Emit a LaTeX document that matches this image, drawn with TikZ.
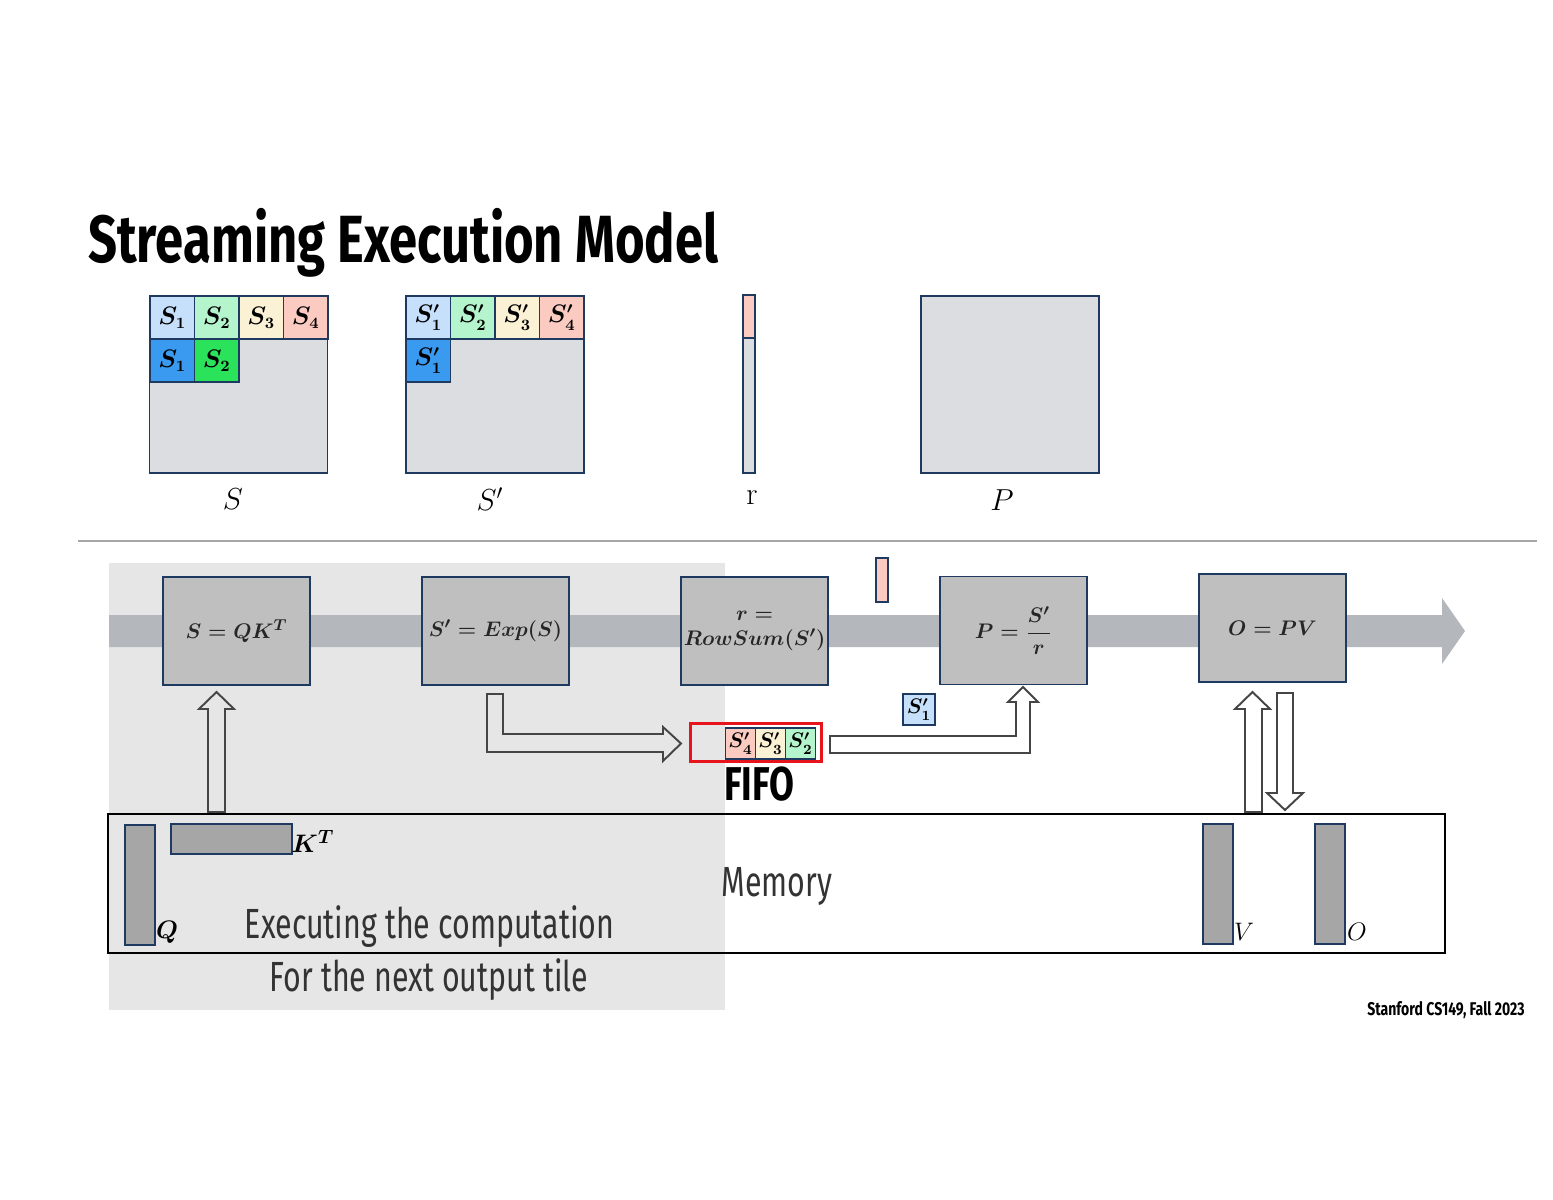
\documentclass[tikz,border=0pt]{standalone}
\usepackage{fontspec}
\usepackage{amsmath}
\newfontfamily\condf[FakeStretch=0.76]{Fira Sans}
\newfontfamily\condn[FakeStretch=0.72]{Fira Sans}
\definecolor{navy}{HTML}{1F3A60}
\definecolor{bandgray}{HTML}{B4B7BC}
\definecolor{boxgray}{HTML}{BFBFBF}
\definecolor{matgray}{HTML}{DCDDE0}
\definecolor{shadegray}{HTML}{E6E6E6}
\definecolor{barfill}{HTML}{A6A6A6}
\definecolor{cA}{HTML}{C6E0FB}
\definecolor{cB}{HTML}{B4F5CD}
\definecolor{cC}{HTML}{FBF1D5}
\definecolor{cD}{HTML}{FBCBC1}
\definecolor{cAd}{HTML}{3A9AF0}
\definecolor{cBd}{HTML}{2BE35B}
\definecolor{fifored}{HTML}{E8141C}
\definecolor{arrline}{HTML}{454545}
\begin{document}
\begin{tikzpicture}[x=0.02cm,y=-0.02cm,
  mat/.style={draw=navy,line width=1pt,fill=matgray,inner sep=0,minimum width=3.56cm,minimum height=3.54cm},
  cell/.style={draw=navy,line width=1pt,inner sep=0,minimum width=0.89cm,minimum height=0.86cm,font=\fontsize{13.5}{15}\selectfont\boldmath},
  fcell/.style={draw=navy,line width=0.8pt,inner sep=0,minimum width=0.6cm,minimum height=0.62cm,font=\fontsize{11.5}{13}\selectfont\boldmath},
  op/.style={draw=navy,line width=1pt,fill=boxgray,inner sep=0,minimum width=2.94cm,minimum height=2.16cm,align=center,font=\fontsize{12.5}{16}\selectfont\boldmath,text=black!85},
  bar/.style={draw=navy,line width=1pt,fill=barfill,inner sep=0},
  lbl/.style={inner sep=0,font=\fontsize{18}{20}\selectfont},
  hollow/.style={draw=arrline,line width=1.1pt,line join=miter},
  cond/.style={inner sep=0,font=\condn\fontsize{24}{28}\selectfont,text=black!80}]
\useasboundingbox[fill=white] (0,0) rectangle (1553,1200);

% title
\node[anchor=base west,inner sep=0,font=\condf\bfseries\fontsize{38}{42}\selectfont] (title) at (88,262) {Streaming Execution Model};

% matrix S
\node[mat] (Smat) at (238.5,384.5) {};
\node[cell,fill=cA] (s11) at (172.25,317.5) {$S_1$};
\node[cell,fill=cB] (s12) at (216.75,317.5) {$S_2$};
\node[cell,fill=cC] (s13) at (261.25,317.5) {$S_3$};
\node[cell,fill=cD] (s14) at (305.75,317.5) {$S_4$};
\node[cell,fill=cAd] (s21) at (172.25,360.5) {$S_1$};
\node[cell,fill=cBd] (s22) at (216.75,360.5) {$S_2$};
\node[lbl] (Slbl) at (233,499) {$S$};

% matrix S'
\node[mat] (Spmat) at (495,384.5) {};
\node[cell,fill=cA] (p11) at (428.25,317.5) {$S'_1$};
\node[cell,fill=cB] (p12) at (472.75,317.5) {$S'_2$};
\node[cell,fill=cC] (p13) at (517.25,317.5) {$S'_3$};
\node[cell,fill=cD] (p14) at (561.75,317.5) {$S'_4$};
\node[cell,fill=cAd] (p21) at (428.25,360.5) {$S'_1$};
\node[lbl] (Splbl) at (490,499) {$S'$};

% r vector
\node[draw=navy,line width=1pt,fill=matgray,inner sep=0,minimum width=0.24cm,minimum height=3.56cm] (rvec) at (749,384) {};
\node[draw=navy,line width=1pt,fill=cD,inner sep=0,minimum width=0.24cm,minimum height=0.86cm] (rtop) at (749,316.5) {};
\node[lbl] (rlbl) at (752,498) {r};

% P matrix
\node[mat] (Pmat) at (1010,384.5) {};
\node[lbl] (Plbl) at (1002,500) {$P$};

% separator
\draw[draw=black!35,line width=1.5pt] (78,541) -- (1537,541);

% shaded region
\fill[shadegray] (109,563) rectangle (725,1010);

% band arrow
\fill[bandgray] (109,615) -- (1442,615) -- (1442,598) -- (1465,631) -- (1442,664) -- (1442,647) -- (109,647) -- cycle;

% operators
\node[op] (b1) at (236.5,631) {$S = QK^T$};
\node[op] (b2) at (495.5,631) {$S' = Exp(S)$};
\node[op] (b3) at (754.5,631) {$r =$\\[-2pt]$RowSum(S')$};
\node[op] (b4) at (1013.5,630.5) {$P = \dfrac{S'}{r}$};
\node[op] (b5) at (1272.5,628) {$O = PV$};

% small pink bar
\node[draw=navy,line width=0.8pt,fill=cD,inner sep=0,minimum width=0.24cm,minimum height=0.88cm] (pinkbar) at (882,580) {};

% small S'1
\node[fcell,fill=cA,minimum width=0.64cm] (sone) at (919,709.5) {$S'_1$};

% FIFO
\node[draw=fifored,line width=2.2pt,inner sep=0,minimum width=2.62cm,minimum height=0.76cm] (fifo) at (756,742.5) {};
\node[fcell,fill=cD] (f4) at (740.5,743.5) {$S'_4$};
\node[fcell,fill=cC] (f3) at (770.5,743.5) {$S'_3$};
\node[fcell,fill=cB] (f2) at (800.5,743.5) {$S'_2$};
\node[inner sep=0,font=\condf\bfseries\fontsize{27}{30}\selectfont] (fifolbl) at (759,784) {FIFO};

% memory
\node[draw=black,line width=1.3pt,inner sep=0,minimum width=26.74cm,minimum height=2.78cm] (mem) at (776.5,883.5) {};
\node[cond] (memlbl) at (777,886) {Memory};
\node[bar,minimum width=0.6cm,minimum height=2.4cm] (Q) at (140,885) {};
\node[bar,minimum width=2.42cm,minimum height=0.6cm] (KT) at (231.5,839) {};
\node[inner sep=0,font=\fontsize{15}{17}\selectfont\boldmath] (KTl) at (313,841) {$K^T$};
\node[inner sep=0,font=\fontsize{15}{17}\selectfont\boldmath] (Ql) at (167,932) {$Q$};
\node[bar,minimum width=0.6cm,minimum height=2.4cm] (V) at (1218,884) {};
\node[bar,minimum width=0.6cm,minimum height=2.4cm] (O) at (1330,884) {};
\node[inner sep=0,font=\fontsize{15}{17}\selectfont] (Vl) at (1244,932) {$V$};
\node[inner sep=0,font=\fontsize{15}{17}\selectfont] (Ol) at (1357,932) {$O$};

\node[cond] (exec1) at (429.5,927) {Executing the computation};
\node[cond] (exec2) at (429,980) {For the next output tile};

% hollow arrows
\draw[hollow] (208,812) -- (208,709) -- (199,709) -- (216.5,692) -- (234,709) -- (225,709) -- (225,812) -- cycle;
\draw[hollow] (487,694) -- (503,694) -- (503,734) -- (663,734) -- (663,727) -- (681,743.5) -- (663,761) -- (663,752) -- (487,752) -- cycle;
\draw[hollow] (830,736) -- (1016,736) -- (1016,702) -- (1008,702) -- (1023,687) -- (1038,702) -- (1030,702) -- (1030,753) -- (830,753) -- cycle;
\draw[hollow] (1245,812) -- (1245,709) -- (1235,709) -- (1252.5,692) -- (1270,709) -- (1262,709) -- (1262,812) -- cycle;
\draw[hollow] (1277,693) -- (1293,693) -- (1293,793) -- (1303,793) -- (1285,810) -- (1267,793) -- (1277,793) -- cycle;

% footer
\node[anchor=east,inner sep=0,font=\condf\bfseries\fontsize{10.5}{12}\selectfont] (foot) at (1525,1010) {Stanford CS149, Fall 2023};
\end{tikzpicture}
\end{document}
